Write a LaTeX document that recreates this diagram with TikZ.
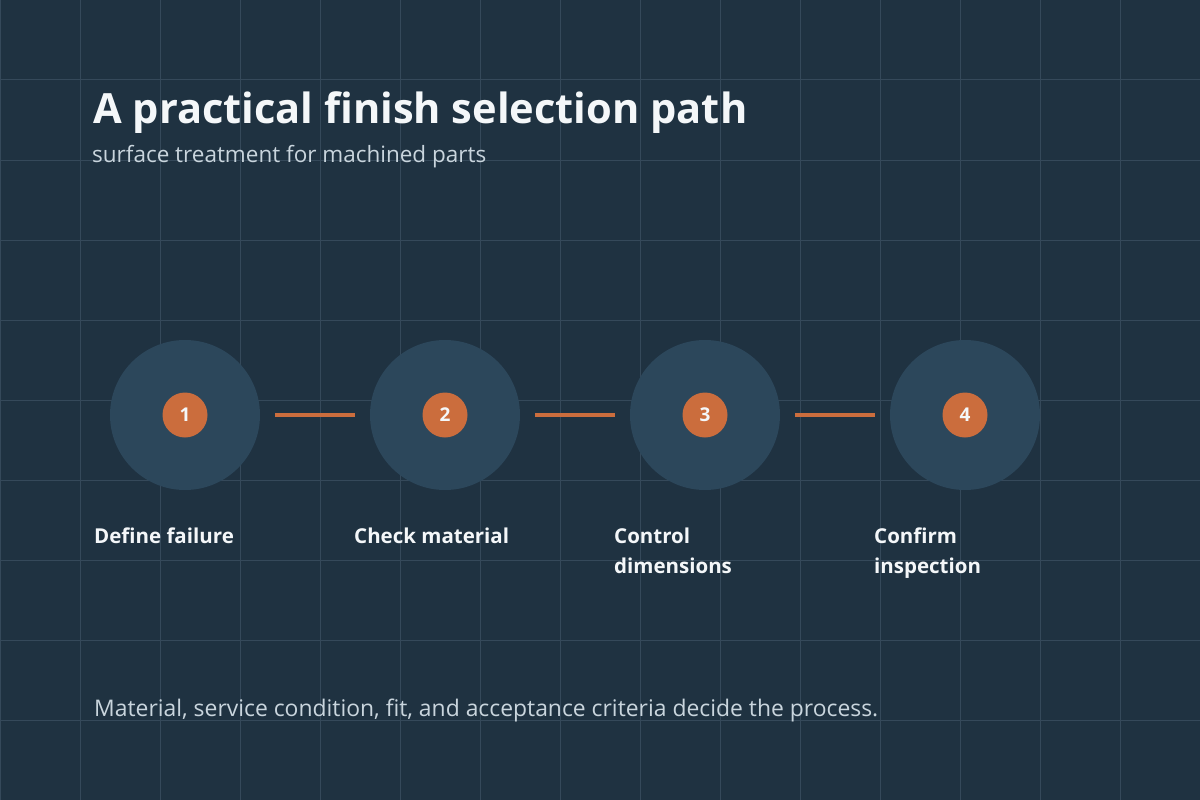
\documentclass[tikz,border=0pt]{standalone}
\usepackage{fontspec}
\setmainfont{Open Sans}
\definecolor{bg}{HTML}{1F3241}
\definecolor{gridc}{HTML}{35495A}
\definecolor{halo}{HTML}{2C475B}
\definecolor{accent}{HTML}{CB6D3D}
\definecolor{titlec}{HTML}{F4F7F9}
\definecolor{subc}{HTML}{C9D5DD}
\tikzset{
  gridline/.style={draw=gridc, line width=1pt},
  halocirc/.style={circle, fill=halo, minimum size=150pt, inner sep=0pt, outer sep=0pt},
  numcirc/.style={circle, fill=accent, minimum size=45pt, inner sep=0pt, outer sep=0pt, text=titlec, font=\fontsize{19}{20}\selectfont\bfseries},
  conn/.style={draw=accent, line width=4pt, shorten <=15pt, shorten >=15pt},
  steplabel/.style={anchor=base west, inner sep=0pt, align=left, text=titlec, font=\fontsize{20.5}{30}\selectfont\bfseries},
}
\begin{document}
\begin{tikzpicture}[x=1pt,y=-1pt]
\useasboundingbox (0,0) rectangle (1200,800);
\fill[bg] (0,0) rectangle (1200,800);
\foreach \x in {0,80,...,1200} \draw[gridline] (\x,0) -- (\x,800);
\foreach \y in {0,80,...,800} \draw[gridline] (0,\y) -- (1200,\y);

\node[anchor=base west, inner sep=0pt, text=titlec, font=\fontsize{41.6}{44}\selectfont\bfseries] (title) at (93,123) {A practical finish selection path};
\node[anchor=base west, inner sep=0pt, text=subc, font=\fontsize{22.5}{24}\selectfont] (sub) at (92,162) {surface treatment for machined parts};

\node[halocirc] (c1) at (185,415) {};
\node[halocirc] (c2) at (445,415) {};
\node[halocirc] (c3) at (705,415) {};
\node[halocirc] (c4) at (965,415) {};
\node[numcirc] (n1) at (185,415) {1};
\node[numcirc] (n2) at (445,415) {2};
\node[numcirc] (n3) at (705,415) {3};
\node[numcirc] (n4) at (965,415) {4};
\draw[conn] (c1) -- (c2);
\draw[conn] (c2) -- (c3);
\draw[conn] (c3) -- (c4);

\node[steplabel] (l1) at (94,543) {Define failure};
\node[steplabel] (l2) at (354,543) {Check material};
\node[steplabel] (l3) at (614,573) {Control\\dimensions};
\node[steplabel] (l4) at (874,573) {Confirm\\inspection};

\node[anchor=base west, inner sep=0pt, text=subc, font=\fontsize{22.9}{26}\selectfont] (foot) at (94,716) {Material, service condition, fit, and acceptance criteria decide the process.};
\end{tikzpicture}
\end{document}
